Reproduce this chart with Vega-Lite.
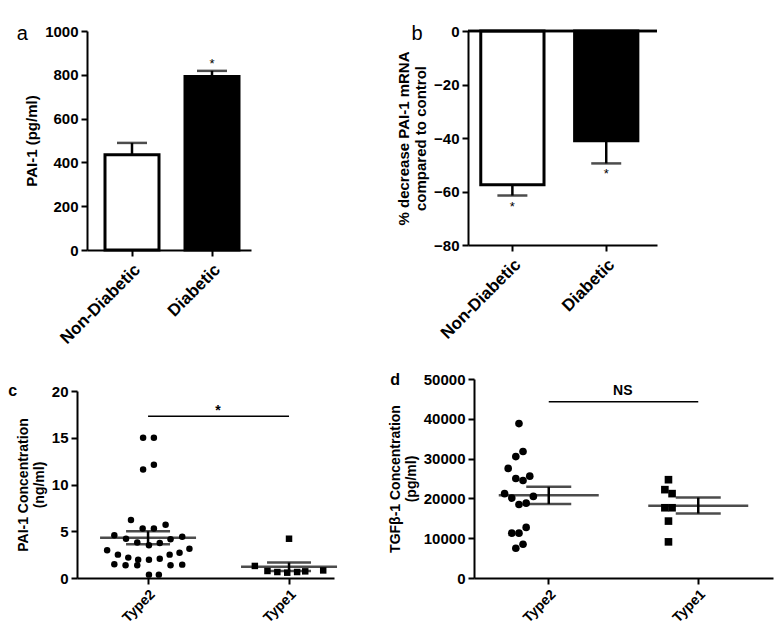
{
  "$schema": "https://vega.github.io/schema/vega-lite/v6.json",
  "background": "white",
  "padding": {"left": 8, "top": 24, "right": 5, "bottom": 5},
  "config": {
    "view": {"stroke": null},
    "font": "Liberation Sans",
    "axis": {
      "domainColor": "black", "domainWidth": 2, "tickColor": "black", "tickWidth": 2, "tickSize": 6,
      "labelColor": "black", "labelFont": "Liberation Sans", "labelFontWeight": "bold", "labelFontSize": 15,
      "titleColor": "black", "titleFont": "Liberation Sans", "titleFontWeight": "bold", "titleFontSize": 15,
      "grid": false, "labelPadding": 3, "titlePadding": 5, "labelOverlap": false
    },
    "title": {"font": "Liberation Sans", "color": "black", "anchor": "start", "frame": "bounds"}
  },
  "datasets": {
    "barsA": [
      {"group": "Non-Diabetic", "value": 435, "upper": 489},
      {"group": "Diabetic", "value": 792, "upper": 818, "sig": "*", "sigY": 862}
    ],
    "barsB": [
      {"group": "Non-Diabetic", "value": -57.5, "lower": -61.5, "sig": "*", "sigY": -64.5},
      {"group": "Diabetic", "value": -41, "lower": -49.5, "sig": "*", "sigY": -52.5}
    ],
    "pointsC": [
      {"group": "Type2", "jitter": -0.11, "value": 15.0},
      {"group": "Type2", "jitter": 0.13, "value": 15.0},
      {"group": "Type2", "jitter": 0.13, "value": 12.1},
      {"group": "Type2", "jitter": -0.11, "value": 11.6},
      {"group": "Type2", "jitter": -0.38, "value": 6.2},
      {"group": "Type2", "jitter": -0.12, "value": 5.3},
      {"group": "Type2", "jitter": 0.13, "value": 5.3},
      {"group": "Type2", "jitter": 0.39, "value": 5.7},
      {"group": "Type2", "jitter": -0.75, "value": 4.57},
      {"group": "Type2", "jitter": -0.49, "value": 4.2},
      {"group": "Type2", "jitter": -0.24, "value": 3.8},
      {"group": "Type2", "jitter": 0.02, "value": 3.5},
      {"group": "Type2", "jitter": 0.26, "value": 3.75},
      {"group": "Type2", "jitter": 0.5, "value": 4.14},
      {"group": "Type2", "jitter": 0.76, "value": 4.4},
      {"group": "Type2", "jitter": -0.91, "value": 2.96},
      {"group": "Type2", "jitter": -0.67, "value": 2.5},
      {"group": "Type2", "jitter": -0.44, "value": 2.18},
      {"group": "Type2", "jitter": -0.22, "value": 1.96},
      {"group": "Type2", "jitter": 0.02, "value": 1.96},
      {"group": "Type2", "jitter": 0.26, "value": 2.07},
      {"group": "Type2", "jitter": 0.48, "value": 2.5},
      {"group": "Type2", "jitter": 0.7, "value": 2.7},
      {"group": "Type2", "jitter": 0.92, "value": 3.14},
      {"group": "Type2", "jitter": -0.75, "value": 1.46},
      {"group": "Type2", "jitter": -0.5, "value": 1.36},
      {"group": "Type2", "jitter": -0.24, "value": 1.36},
      {"group": "Type2", "jitter": 0.5, "value": 1.36},
      {"group": "Type2", "jitter": 0.76, "value": 1.43},
      {"group": "Type2", "jitter": 0.02, "value": 0.36},
      {"group": "Type2", "jitter": 0.24, "value": 0.36},
      {"group": "Type1", "jitter": 0.0, "value": 4.2},
      {"group": "Type1", "jitter": -0.76, "value": 1.29},
      {"group": "Type1", "jitter": -0.48, "value": 0.75},
      {"group": "Type1", "jitter": -0.26, "value": 0.64},
      {"group": "Type1", "jitter": -0.04, "value": 0.57},
      {"group": "Type1", "jitter": 0.18, "value": 0.64},
      {"group": "Type1", "jitter": 0.36, "value": 0.71},
      {"group": "Type1", "jitter": 0.76, "value": 0.81}
    ],
    "summaryC": [
      {"group": "Type2", "mean": 4.3, "lo": 3.6, "hi": 5.0},
      {"group": "Type1", "mean": 1.2, "lo": 0.75, "hi": 1.65}
    ],
    "pointsD": [
      {"group": "Type2", "jitter": 0.0, "value": 38800},
      {"group": "Type2", "jitter": 0.09, "value": 31780},
      {"group": "Type2", "jitter": -0.07, "value": 30500},
      {"group": "Type2", "jitter": -0.24, "value": 27540},
      {"group": "Type2", "jitter": -0.07, "value": 25000},
      {"group": "Type2", "jitter": 0.09, "value": 24490},
      {"group": "Type2", "jitter": 0.24, "value": 25590},
      {"group": "Type2", "jitter": -0.32, "value": 21190},
      {"group": "Type2", "jitter": -0.16, "value": 20080},
      {"group": "Type2", "jitter": 0.0, "value": 18470},
      {"group": "Type2", "jitter": 0.16, "value": 18810},
      {"group": "Type2", "jitter": 0.32, "value": 20500},
      {"group": "Type2", "jitter": 0.16, "value": 12710},
      {"group": "Type2", "jitter": -0.16, "value": 11270},
      {"group": "Type2", "jitter": 0.0, "value": 11270},
      {"group": "Type2", "jitter": -0.07, "value": 7460},
      {"group": "Type2", "jitter": 0.09, "value": 8470},
      {"group": "Type1", "jitter": 0.0, "value": 24700},
      {"group": "Type1", "jitter": -0.08, "value": 22200},
      {"group": "Type1", "jitter": 0.08, "value": 21200},
      {"group": "Type1", "jitter": -0.08, "value": 17650},
      {"group": "Type1", "jitter": 0.08, "value": 17650},
      {"group": "Type1", "jitter": 0.0, "value": 14300},
      {"group": "Type1", "jitter": 0.0, "value": 9080}
    ],
    "summaryD": [
      {"group": "Type2", "mean": 20800, "lo": 18600, "hi": 22900},
      {"group": "Type1", "mean": 18150, "lo": 16200, "hi": 20200}
    ],
    "sigC": [{"from": "Type2", "to": "Type1", "y": 17.3, "labelY": 18.2, "label": "*"}],
    "sigD": [{"from": "Type2", "to": "Type1", "y": 44300, "labelY": 46900, "label": "NS"}]
  },
  "vconcat": [
    {
      "hconcat": [
        {
          "width": 164, "height": 219,
          "title": {"text": "a", "fontSize": 20, "fontWeight": "normal", "dx": -8, "dy": 24},
          "data": {"name": "barsA"},
          "layer": [
            {
              "mark": {"type": "rect", "stroke": "black", "strokeWidth": 3},
              "encoding": {
                "x": {"field": "group", "type": "nominal", "sort": ["Non-Diabetic", "Diabetic"], "bandPosition": 0,
                  "scale": {"type": "band", "paddingInner": 0.325, "paddingOuter": 0.1875, "align": 0.6},
                  "axis": {"title": null, "labelAngle": -45, "labelFontSize": 17, "labelPadding": 5}},
                "x2": {"field": "group", "bandPosition": 1},
                "y": {"field": "value", "type": "quantitative",
                  "scale": {"domain": [0, 1000], "nice": false},
                  "axis": {"title": "PAI-1 (pg/ml)", "values": [0, 200, 400, 600, 800, 1000], "format": "d"}},
                "y2": {"datum": 0},
                "fill": {"field": "group", "type": "nominal",
                  "scale": {"domain": ["Non-Diabetic", "Diabetic"], "range": ["white", "black"]}, "legend": null}
              }
            },
            {
              "mark": {"type": "rule", "strokeWidth": 2.5, "color": "black"},
              "encoding": {
                "x": {"field": "group", "type": "nominal", "sort": ["Non-Diabetic", "Diabetic"]},
                "y": {"field": "value", "type": "quantitative"},
                "y2": {"field": "upper"}
              }
            },
            {
              "mark": {"type": "tick", "thickness": 2.5, "size": 30, "color": "black"},
              "encoding": {
                "x": {"field": "group", "type": "nominal", "sort": ["Non-Diabetic", "Diabetic"]},
                "y": {"field": "upper", "type": "quantitative"}
              }
            },
            {
              "transform": [{"filter": "isValid(datum.sig)"}],
              "mark": {"type": "text", "fontSize": 13, "color": "black", "baseline": "alphabetic", "dy": 7},
              "encoding": {
                "x": {"field": "group", "type": "nominal", "sort": ["Non-Diabetic", "Diabetic"]},
                "y": {"field": "sigY", "type": "quantitative"},
                "text": {"field": "sig"}
              }
            }
          ]
        },
        {
          "width": 189, "height": 214,
          "title": {"text": "b", "fontSize": 20, "fontWeight": "normal", "dx": 15, "dy": 24},
          "data": {"name": "barsB"},
          "layer": [
            {
              "mark": {"type": "rect", "stroke": "black", "strokeWidth": 3},
              "encoding": {
                "x": {"field": "group", "type": "nominal", "sort": ["Non-Diabetic", "Diabetic"], "bandPosition": 0,
                  "scale": {"type": "band", "paddingInner": 0.326, "paddingOuter": 0.17, "align": 0.4},
                  "axis": {"title": null, "labelAngle": -45, "labelFontSize": 17, "labelPadding": 5}},
                "x2": {"field": "group", "bandPosition": 1},
                "y": {"field": "value", "type": "quantitative",
                  "scale": {"domain": [-80, 0], "nice": false},
                  "axis": {"title": ["% decrease PAI-1 mRNA", "compared to control"], "values": [-80, -60, -40, -20, 0], "format": "d"}},
                "y2": {"datum": 0},
                "fill": {"field": "group", "type": "nominal",
                  "scale": {"domain": ["Non-Diabetic", "Diabetic"], "range": ["white", "black"]}, "legend": null}
              }
            },
            {
              "mark": {"type": "rule", "strokeWidth": 2.5, "color": "black"},
              "encoding": {
                "x": {"field": "group", "type": "nominal", "sort": ["Non-Diabetic", "Diabetic"]},
                "y": {"field": "value", "type": "quantitative"},
                "y2": {"field": "lower"}
              }
            },
            {
              "mark": {"type": "tick", "thickness": 2.5, "size": 30, "color": "black"},
              "encoding": {
                "x": {"field": "group", "type": "nominal", "sort": ["Non-Diabetic", "Diabetic"]},
                "y": {"field": "lower", "type": "quantitative"}
              }
            },
            {
              "mark": {"type": "text", "fontSize": 13, "color": "black", "baseline": "alphabetic", "dy": 7},
              "encoding": {
                "x": {"field": "group", "type": "nominal", "sort": ["Non-Diabetic", "Diabetic"]},
                "y": {"field": "sigY", "type": "quantitative"},
                "text": {"field": "sig"}
              }
            },
            {
              "mark": {"type": "rule", "strokeWidth": 2.5, "color": "black"},
              "encoding": {"y": {"datum": 0, "type": "quantitative"}}
            }
          ]
        }
      ],
      "spacing": 145
    },
    {
      "hconcat": [
        {
          "width": 257, "height": 199,
          "title": {"text": "c", "fontSize": 16, "fontWeight": "bold", "dx": -8, "dy": 24},
          "layer": [
            {
              "data": {"name": "sigC"},
              "mark": {"type": "rule", "strokeWidth": 1.5, "color": "black"},
              "encoding": {
                "x": {"field": "from", "type": "nominal", "sort": ["Type2", "Type1"],
                  "scale": {"type": "band", "domain": ["Type2", "Type1"], "range": [-10, 247], "paddingInner": 0.362, "paddingOuter": 0.0925, "align": 1},
                  "axis": {"title": null, "labelAngle": -45, "labelFontSize": 14}},
                "x2": {"field": "to"},
                "y": {"field": "y", "type": "quantitative",
                  "scale": {"domain": [0, 20], "nice": false, "range": [199, 12]},
                  "axis": {"title": ["PAI-1 Concentration", "(ng/ml)"], "titleFontSize": 14, "values": [0, 5, 10, 15, 20], "format": "d", "offset": 10}}
              }
            },
            {
              "data": {"name": "sigC"},
              "mark": {"type": "text", "fontSize": 14, "fontWeight": "bold", "color": "black", "baseline": "alphabetic", "dy": 7, "dx": 70},
              "encoding": {
                "x": {"field": "from", "type": "nominal", "sort": ["Type2", "Type1"]},
                "y": {"field": "labelY", "type": "quantitative"},
                "text": {"field": "label"}
              }
            },
            {
              "data": {"name": "pointsC"},
              "mark": {"type": "point", "filled": true, "opacity": 1, "color": "black", "size": 42},
              "encoding": {
                "x": {"field": "group", "type": "nominal", "sort": ["Type2", "Type1"]},
                "xOffset": {"field": "jitter", "type": "quantitative", "scale": {"domain": [-1, 1]}},
                "y": {"field": "value", "type": "quantitative"},
                "shape": {"field": "group", "type": "nominal", "scale": {"domain": ["Type2", "Type1"], "range": ["circle", "square"]}, "legend": null}
              }
            },
            {
              "data": {"name": "summaryC"},
              "mark": {"type": "tick", "thickness": 2.5, "size": 96, "color": "black"},
              "encoding": {
                "x": {"field": "group", "type": "nominal", "sort": ["Type2", "Type1"]},
                "y": {"field": "mean", "type": "quantitative"}
              }
            },
            {
              "data": {"name": "summaryC"},
              "mark": {"type": "tick", "thickness": 2.5, "size": 44, "color": "black"},
              "encoding": {
                "x": {"field": "group", "type": "nominal", "sort": ["Type2", "Type1"]},
                "y": {"field": "hi", "type": "quantitative"}
              }
            },
            {
              "data": {"name": "summaryC"},
              "mark": {"type": "tick", "thickness": 2.5, "size": 44, "color": "black"},
              "encoding": {
                "x": {"field": "group", "type": "nominal", "sort": ["Type2", "Type1"]},
                "y": {"field": "lo", "type": "quantitative"}
              }
            },
            {
              "data": {"name": "summaryC"},
              "mark": {"type": "rule", "strokeWidth": 2.5, "color": "black"},
              "encoding": {
                "x": {"field": "group", "type": "nominal", "sort": ["Type2", "Type1"]},
                "y": {"field": "lo", "type": "quantitative"},
                "y2": {"field": "hi"}
              }
            }
          ]
        },
        {
          "width": 299, "height": 199,
          "title": {"text": "d", "fontSize": 16, "fontWeight": "bold", "dx": 2, "dy": 20},
          "layer": [
            {
              "data": {"name": "sigD"},
              "mark": {"type": "rule", "strokeWidth": 1.5, "color": "black"},
              "encoding": {
                "x": {"field": "from", "type": "nominal", "sort": ["Type2", "Type1"],
                  "scale": {"type": "band", "domain": ["Type2", "Type1"], "paddingInner": 0, "paddingOuter": 0},
                  "axis": {"title": null, "labelAngle": -45, "labelFontSize": 14}},
                "x2": {"field": "to"},
                "y": {"field": "y", "type": "quantitative",
                  "scale": {"domain": [0, 50000], "nice": false},
                  "axis": {"title": ["TGFβ-1 Concentration", "(pg/ml)"], "titleFontSize": 14, "tickCount": 5, "format": "d", "labelOverlap": false, "labelSeparation": 0}}
              }
            },
            {
              "data": {"name": "sigD"},
              "mark": {"type": "text", "fontSize": 14, "fontWeight": "bold", "color": "black", "baseline": "middle", "dx": 74},
              "encoding": {
                "x": {"field": "from", "type": "nominal", "sort": ["Type2", "Type1"]},
                "y": {"field": "labelY", "type": "quantitative"},
                "text": {"field": "label"}
              }
            },
            {
              "data": {"name": "pointsD"},
              "mark": {"type": "point", "filled": true, "opacity": 1, "color": "black", "size": 58},
              "encoding": {
                "x": {"field": "group", "type": "nominal", "sort": ["Type2", "Type1"]},
                "xOffset": {"field": "jitter", "type": "quantitative", "scale": {"domain": [-1, 1]}},
                "y": {"field": "value", "type": "quantitative"},
                "shape": {"field": "group", "type": "nominal", "scale": {"domain": ["Type2", "Type1"], "range": ["circle", "square"]}, "legend": null}
              }
            },
            {
              "data": {"name": "summaryD"},
              "mark": {"type": "tick", "thickness": 2.5, "size": 100, "color": "black"},
              "encoding": {
                "x": {"field": "group", "type": "nominal", "sort": ["Type2", "Type1"]},
                "y": {"field": "mean", "type": "quantitative"}
              }
            },
            {
              "data": {"name": "summaryD"},
              "mark": {"type": "tick", "thickness": 2.5, "size": 45, "color": "black"},
              "encoding": {
                "x": {"field": "group", "type": "nominal", "sort": ["Type2", "Type1"]},
                "y": {"field": "hi", "type": "quantitative"}
              }
            },
            {
              "data": {"name": "summaryD"},
              "mark": {"type": "tick", "thickness": 2.5, "size": 45, "color": "black"},
              "encoding": {
                "x": {"field": "group", "type": "nominal", "sort": ["Type2", "Type1"]},
                "y": {"field": "lo", "type": "quantitative"}
              }
            },
            {
              "data": {"name": "summaryD"},
              "mark": {"type": "rule", "strokeWidth": 2.5, "color": "black"},
              "encoding": {
                "x": {"field": "group", "type": "nominal", "sort": ["Type2", "Type1"]},
                "y": {"field": "lo", "type": "quantitative"},
                "y2": {"field": "hi"}
              }
            }
          ]
        }
      ],
      "spacing": 44
    }
  ],
  "spacing": 25
}
